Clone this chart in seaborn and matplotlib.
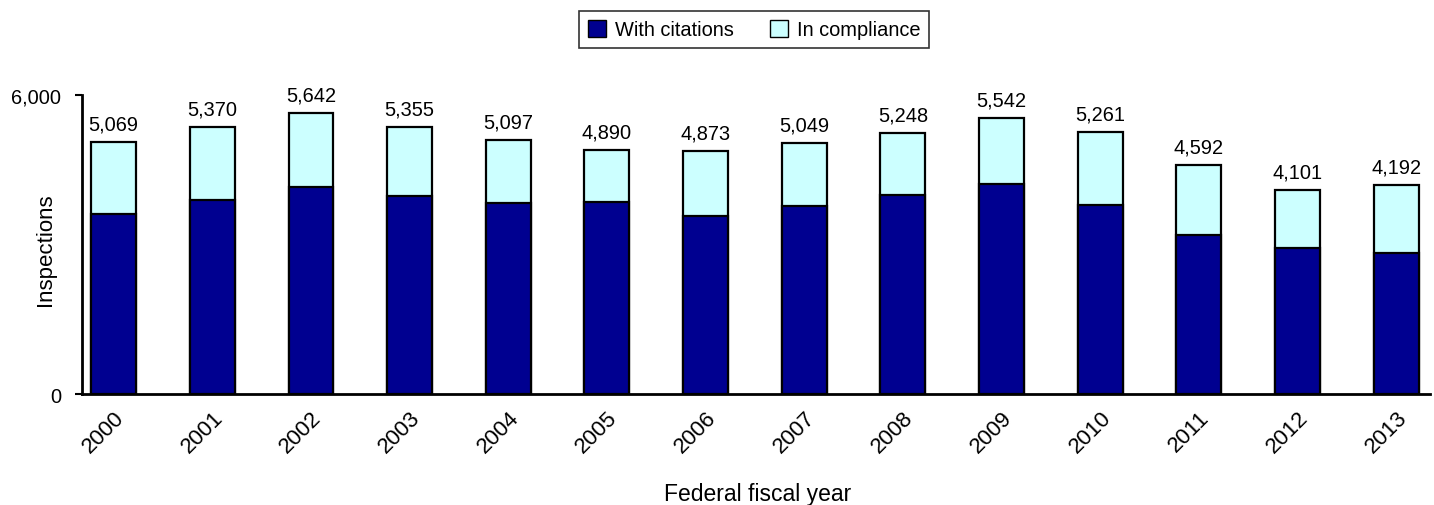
import numpy as np
import pandas as pd
import matplotlib
matplotlib.use("Agg")
from matplotlib import pyplot as plt
from matplotlib.patches import Patch
import seaborn as sns

years = ['2000', '2001', '2002', '2003', '2004', '2005', '2006',
         '2007', '2008', '2009', '2010', '2011', '2012', '2013']
totals = [5069, 5370, 5642, 5355, 5097, 4890, 4873,
          5049, 5248, 5542, 5261, 4592, 4101, 4192]
with_citations = [3610, 3900, 4160, 3975, 3840, 3865, 3580,
                  3770, 4000, 4220, 3800, 3190, 2935, 2835]

dark = '#000090'
light = '#CCFFFF'

df = pd.DataFrame({'year': years, 'total': totals, 'citations': with_citations})

sns.set_style('white')
plt.rcParams['font.family'] = ['Liberation Sans', 'DejaVu Sans']
plt.rcParams.update({'text.color': 'black', 'axes.labelcolor': 'black',
                     'xtick.color': 'black', 'ytick.color': 'black'})

fig = plt.figure(figsize=(14.34, 5.06), dpi=100)
ax = fig.add_axes([0.057, 0.219, 0.94, 0.591])

# full bar = total (top part shows in compliance), citations drawn over it
sns.barplot(data=df, x='year', y='total', color=light, edgecolor='black',
            linewidth=1.6, width=0.456, saturation=1, ax=ax)
sns.barplot(data=df, x='year', y='citations', color=dark, edgecolor='black',
            linewidth=1.6, width=0.456, saturation=1, ax=ax)

for i, t in enumerate(totals):
    ax.text(i, t + 170, f'{t:,}', ha='center', va='bottom', fontsize=14.4)

ax.set_ylim(0, 6000)
ax.set_xlim(-0.324, 13.34)
ax.set_yticks([0, 6000])
ax.set_yticklabels(['0', '6,000'], fontsize=14.4)
ax.set_xticks(range(len(years)))
ax.set_xticklabels(years, rotation=45, ha='right', rotation_mode='anchor', fontsize=16)
ax.tick_params(axis='y', length=5, width=1.5, direction='out', left=True, pad=10)
ax.tick_params(axis='x', length=0, pad=9)

for s in ['top', 'right']:
    ax.spines[s].set_visible(False)
ax.spines['left'].set_linewidth(2)
ax.spines['bottom'].set_linewidth(2)
ax.spines['left'].set_color('black')
ax.spines['bottom'].set_color('black')

ax.set_ylabel('Inspections', fontsize=16)
ax.yaxis.set_label_coords(-0.019, 0.485)
ax.set_xlabel('')
fig.text(0.5286, 0.009, 'Federal fiscal year', ha='center', va='baseline', fontsize=16.5)

handles = [Patch(facecolor=dark, edgecolor='black', label='With citations'),
           Patch(facecolor=light, edgecolor='black', label='In compliance')]
leg = fig.legend(handles=handles, loc='center', bbox_to_anchor=(0.526, 0.939),
                 ncol=2, fontsize=14.4, frameon=True, fancybox=False,
                 edgecolor='black', handlelength=0.9, handleheight=0.9,
                 handletextpad=0.45, columnspacing=1.8, borderpad=0.45,
                 borderaxespad=0)
leg.get_frame().set_linewidth(1.2)

plt.savefig('out.png', dpi=100)
